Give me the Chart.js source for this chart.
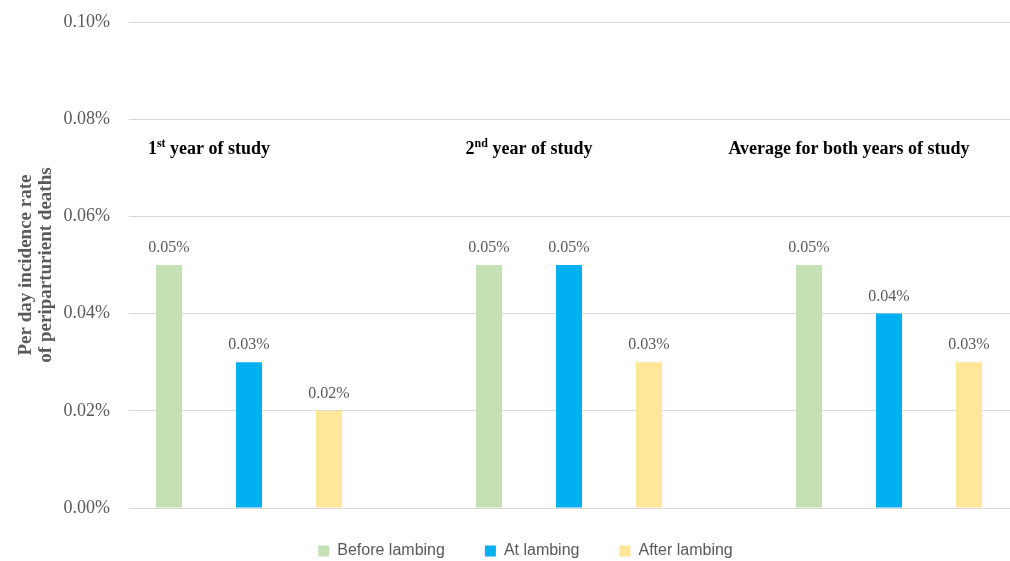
<!DOCTYPE html>
<html>
<head>
<meta charset="utf-8">
<title>Periparturient deaths</title>
<script src="https://cdn.jsdelivr.net/npm/chart.js@4"></script>
<style>
  html, body { margin: 0; padding: 0; background: #fff; overflow: hidden; }
  #wrap { width: 1089px; height: 561px; }
</style>
</head>
<body>
<div id="wrap"><canvas id="deathChart"></canvas></div>
<script>
// data (values in %)
var groups = ["1st year of study", "2nd year of study", "Average for both years of study"];
var beforeLambing = [0.05, 0.05, 0.05];
var atLambing = [0.03, 0.05, 0.04];
var afterLambing = [0.02, 0.03, 0.03];
var yTicks = [0, 0.02, 0.04, 0.06, 0.08, 0.10];

var grey = "#595959";
var serif = "'Liberation Serif', 'DejaVu Serif', serif";

// group headings above the bars, with superscript ordinals
var groupTitles = {
    id: "groupTitles",
    afterDraw: function (chart) {
        var ctx = chart.ctx;
        var xs = chart.scales.x;
        var step = xs.width / groups.length;
        ctx.save();
        ctx.fillStyle = "#000";
        ctx.textBaseline = "middle";
        ctx.textAlign = "left";
        groups.forEach(function (name, i) {
            var m = name.match(/^(\d+)(st|nd|rd|th)(.*)$/);
            var parts = m ? [[m[1], 0], [m[2], 1], [m[3], 0]] : [[name, 0]];
            var total = 0;
            parts.forEach(function (p) {
                ctx.font = "bold " + (p[1] ? 12 : 18) + "px " + serif;
                total += ctx.measureText(p[0]).width;
            });
            var x = xs.getPixelForValue(i) - step * 0.25 - total / 2;
            var y = 149;
            parts.forEach(function (p) {
                ctx.font = "bold " + (p[1] ? 12 : 18) + "px " + serif;
                ctx.fillText(p[0], x, p[1] ? y - 5 : y);
                x += ctx.measureText(p[0]).width;
            });
        });
        ctx.restore();
    }
};

// value labels on top of each bar
var barValues = {
    id: "barValues",
    afterDatasetsDraw: function (chart) {
        var ctx = chart.ctx;
        ctx.save();
        ctx.font = "16px " + serif;
        ctx.fillStyle = grey;
        ctx.textAlign = "center";
        ctx.textBaseline = "middle";
        chart.data.datasets.forEach(function (ds, i) {
            if (!ds.label) return;
            chart.getDatasetMeta(i).data.forEach(function (bar, j) {
                if (ds.data[j] == null) return;
                ctx.fillText(ds.data[j].toFixed(2) + "%", bar.x, bar.y - 17);
            });
        });
        ctx.restore();
    }
};

// legend sits low and a bit left of the canvas centre
var legendPlace = {
    id: "legendPlace",
    beforeInit: function (chart) {
        var fit = chart.legend.fit;
        chart.legend.fit = function () {
            fit.call(this);
            this.height = 53;
        };
    },
    afterLayout: function (chart) {
        chart.legend.top -= 5;
        chart.legend.left -= 19;
        chart.legend.right -= 19;
    }
};

var ctx = document.getElementById("deathChart").getContext("2d");

var chart = new Chart(ctx, {
    type: "bar",
    data: {
        labels: groups,
        datasets: [
            { label: "Before lambing", data: beforeLambing, backgroundColor: "#C5E0B4" },
            { label: "At lambing", data: atLambing, backgroundColor: "#00B0F0" },
            { label: "After lambing", data: afterLambing, backgroundColor: "#FFE699" },
            { label: "", data: [null, null, null], backgroundColor: "transparent" } // empty slot
        ]
    },
    options: {
        responsive: true,
        maintainAspectRatio: false,
        animation: false,
        categoryPercentage: 1,
        barPercentage: 0.325,
        layout: { padding: { top: 22, right: 0, bottom: 0, left: 0 } },
        scales: {
            x: { display: false, offset: true },
            y: {
                min: 0,
                max: 0.1,
                afterBuildTicks: function (axis) {
                    axis.ticks = yTicks.map(function (v) { return { value: v }; });
                },
                afterFit: function (axis) {
                    axis.width = 129;
                    axis.paddingTop = 0;
                    axis.paddingBottom = 0;
                },
                border: { display: false },
                grid: { color: "#d9d9d9", lineWidth: 1, drawTicks: false },
                ticks: {
                    padding: 19,
                    color: grey,
                    font: { family: serif, size: 18 },
                    callback: function (v) { return v.toFixed(2) + "%"; }
                },
                title: {
                    display: true,
                    text: ["Per day incidence rate", "of periparturient deaths"],
                    color: grey,
                    font: { family: serif, size: 19, weight: "bold", lineHeight: 1.05 },
                    padding: { top: 16, bottom: 0 }
                }
            }
        },
        plugins: {
            tooltip: { enabled: false },
            legend: {
                position: "bottom",
                labels: {
                    boxWidth: 11,
                    boxHeight: 11,
                    padding: 40,
                    color: grey,
                    font: { family: "'Liberation Sans', Arial, sans-serif", size: 16 },
                    filter: function (item) { return item.text !== ""; }
                }
            }
        }
    },
    plugins: [groupTitles, barValues, legendPlace]
});
</script>
</body>
</html>
